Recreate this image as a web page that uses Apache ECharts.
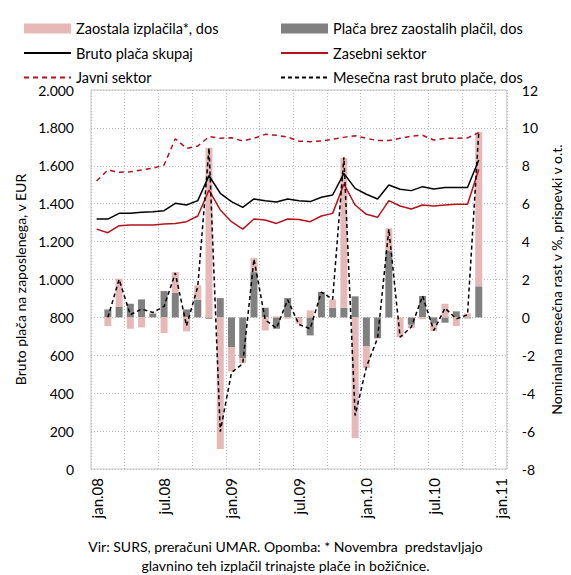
<!DOCTYPE html>
<html>
<head>
<meta charset="utf-8">
<script src="https://cdn.jsdelivr.net/npm/echarts@6/dist/echarts.min.js"></script>
<style>
  html, body { margin: 0; padding: 0; background: #fff; }
  #chart { width: 571px; height: 575px; }
</style>
</head>
<body>
<div id="chart"></div>
<script>
    // mesečni podatki jan.08 - nov.10 (os do jan.11)
    var monthNames = ['jan', 'feb', 'mar', 'apr', 'maj', 'jun', 'jul', 'avg', 'sep', 'okt', 'nov', 'dec'];
    var months = [];
    for (var y = 8; y <= 11; y++) {
        for (var m = 0; m < 12; m++) {
            if (y === 11 && m > 0) break;
            months.push(monthNames[m] + '.' + (y < 10 ? '0' + y : y));
        }
    }

    // bruto plača, v EUR (leva os)
    var brutoSkupaj = [1319, 1319, 1349, 1349, 1355, 1357, 1363, 1402, 1393, 1416, 1548, 1455,
        1411, 1381, 1425, 1416, 1409, 1425, 1416, 1411, 1434, 1446, 1560, 1481,
        1450, 1425, 1499, 1476, 1469, 1490, 1478, 1485, 1485, 1485, 1631];
    var zasebniSektor = [1266, 1247, 1284, 1288, 1288, 1288, 1293, 1296, 1305, 1335, 1472, 1367,
        1305, 1266, 1319, 1314, 1296, 1319, 1317, 1305, 1335, 1349, 1504, 1393,
        1344, 1328, 1416, 1388, 1372, 1393, 1388, 1393, 1397, 1397, 1581];
    var javniSektor = [1520, 1578, 1566, 1568, 1578, 1587, 1604, 1743, 1692, 1704, 1754, 1745,
        1748, 1731, 1745, 1766, 1761, 1752, 1730, 1727, 1731, 1740, 1750, 1759,
        1745, 1733, 1733, 1745, 1757, 1761, 1736, 1745, 1745, 1747, 1775];

    // mesečna rast in prispevki, v o.t. (desna os)
    var mesecnaRast = [null, 0, 2.0, 0.14, 0.44, 0.26, 0.58, 2.34, -0.44, 1.63, 8.94, -6.03,
        -2.91, -2.45, 3.08, -0.13, -0.57, 0.93, -0.37, -0.6, 1.34, 0.95, 8.45, -5.18,
        -2.62, -1.09, 4.66, -1.04, -0.51, 1.13, -0.69, 0.49, -0.08, 0.14, 9.77];
    var placaBrez = [null, 0.42, 0.55, 0.72, 0.95, 0.2, 1.39, 1.30, 0.42, 0.93, -0.07, 1.02,
        -1.57, -2.15, 2.39, 0.51, -0.6, 1.02, -0.04, -0.95, 1.34, 0.51, 0.51, 1.11,
        -1.51, -1.09, 3.5, 0, -0.39, 1.13, -0.33, -0.28, 0.32, -0.05, 1.64];
    var zaostala = [null, -0.46, 1.5, -0.6, -0.53, 0.06, -0.83, 1.09, -0.74, 0.76, 8.95, -6.94,
        -1.29, -0.25, 0.74, -0.69, 0.05, -0.07, -0.3, 0.37, 0, 0.44, 7.9, -6.37,
        -1.16, -0.03, 1.2, -1.04, -0.18, -0.1, -0.4, 0.72, -0.46, 0.2, 8.15];

    var leftTicks = { min: 0, max: 2000, step: 200 };
    var rightTicks = { min: -8, max: 12, step: 2 };

    var font = 'Lato, "Open Sans", sans-serif';

    function fmtEur(v) {
        if (v >= 1000) {
            var r = String(v % 1000);
            while (r.length < 3) r = '0' + r;
            return Math.floor(v / 1000) + '.' + r;
        }
        return String(v);
    }

    var myChart = echarts.init(document.getElementById('chart'), null, { renderer: 'svg' });
    var dotted = { color: '#bdbdbd', width: 1, type: [1, 2] };
    var noSymbol = { opacity: 0 };  // v legendi samo črta, brez krogca

    var option = {
        animation: false,
        textStyle: { fontFamily: font, color: '#000' },
        grid: {
            left: 91, right: 64, top: 90, bottom: 106,
            show: true, borderColor: '#c6c6c6', borderWidth: 1
        },
        legend: [
            {
                orient: 'vertical', left: 18, top: 16, itemGap: 9.5,
                itemWidth: 47, itemHeight: 10,
                textStyle: { fontSize: 14.5, color: '#000', fontFamily: font },
                data: [
                    { name: 'Zaostala izplačila*, dos', icon: 'rect' },
                    { name: 'Bruto plača skupaj', itemStyle: noSymbol },
                    { name: 'Javni sektor', itemStyle: noSymbol }
                ]
            },
            {
                orient: 'vertical', left: 275, top: 16, itemGap: 9.5,
                itemWidth: 47, itemHeight: 10,
                textStyle: { fontSize: 14.5, color: '#000', fontFamily: font },
                data: [
                    { name: 'Plača brez zaostalih plačil, dos', icon: 'rect' },
                    { name: 'Zasebni sektor', itemStyle: noSymbol },
                    { name: 'Mesečna rast bruto plače, dos', itemStyle: noSymbol }
                ]
            }
        ],
        xAxis: {
            type: 'category',
            data: months,
            boundaryGap: true,
            axisLine: { show: false },
            axisTick: { show: false },
            axisLabel: { interval: 5, rotate: 90, margin: 9, fontSize: 15, color: '#000', fontFamily: font },
            splitLine: { show: true, interval: 2, lineStyle: dotted }
        },
        yAxis: [
            {
                type: 'value',
                min: leftTicks.min, max: leftTicks.max, interval: leftTicks.step,
                name: 'Bruto plača na zaposlenega, v EUR',
                nameLocation: 'middle', nameRotate: 90, nameGap: 64,
                nameTextStyle: { fontSize: 14, color: '#000', fontFamily: font },
                axisLine: { show: false },
                axisTick: { show: false },
                axisLabel: { formatter: fmtEur, fontSize: 14, color: '#000', margin: 17, fontFamily: font },
                splitLine: { show: true, lineStyle: dotted }
            },
            {
                type: 'value',
                min: rightTicks.min, max: rightTicks.max, interval: rightTicks.step,
                name: 'Nominalna mesečna rast v %, prispevki v o.t.',
                nameLocation: 'middle', nameRotate: 90, nameGap: 42,
                nameTextStyle: { fontSize: 14, color: '#000', fontFamily: font },
                axisLine: { show: false },
                axisTick: { show: false },
                axisLabel: { fontSize: 14, color: '#000', margin: 15, fontFamily: font },
                splitLine: { show: false }
            }
        ],
        graphic: [
            {
                type: 'text', left: 'center', top: 537,
                style: {
                    text: 'Vir: SURS, preračuni UMAR. Opomba: * Novembra  predstavljajo\nglavnino teh izplačil trinajste plače in božičnice.',
                    textAlign: 'center', fontSize: 14, lineHeight: 19, fill: '#000', fontFamily: font
                }
            }
        ],
        series: [
            {
                name: 'Plača brez zaostalih plačil, dos', type: 'bar', yAxisIndex: 1,
                stack: 'rast', barWidth: 7,
                itemStyle: { color: '#808080' },
                data: placaBrez
            },
            {
                name: 'Zaostala izplačila*, dos', type: 'bar', yAxisIndex: 1,
                stack: 'rast', barWidth: 7,
                itemStyle: { color: '#e6b9b8' },
                data: zaostala
            },
            {
                name: 'Bruto plača skupaj', type: 'line', yAxisIndex: 0,
                symbol: 'none', z: 5,
                lineStyle: { color: '#000', width: 1.5 },
                itemStyle: { color: '#000' },
                data: brutoSkupaj
            },
            {
                name: 'Zasebni sektor', type: 'line', yAxisIndex: 0,
                symbol: 'none', z: 5,
                lineStyle: { color: '#b5121b', width: 1.5 },
                itemStyle: { color: '#b5121b' },
                data: zasebniSektor
            },
            {
                name: 'Javni sektor', type: 'line', yAxisIndex: 0,
                symbol: 'none', z: 5,
                lineStyle: { color: '#b5121b', width: 1.5, type: [5, 4] },
                itemStyle: { color: '#b5121b' },
                data: javniSektor
            },
            {
                name: 'Mesečna rast bruto plače, dos', type: 'line', yAxisIndex: 1,
                symbol: 'none', z: 6,
                lineStyle: { color: '#000', width: 1.5, type: [4, 3] },
                itemStyle: { color: '#000' },
                data: mesecnaRast
            }
        ]
    };

    myChart.setOption(option);
</script>
</body>
</html>
